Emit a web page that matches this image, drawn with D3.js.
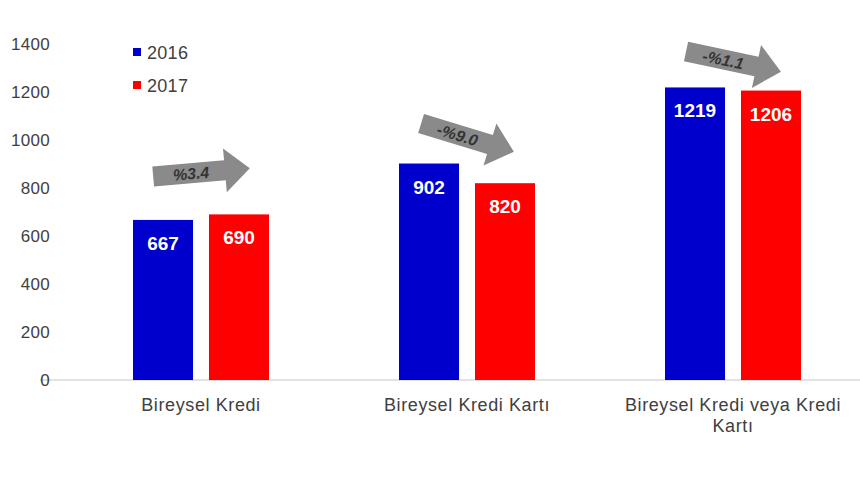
<!DOCTYPE html>
<html lang="tr">
<head>
<meta charset="UTF-8">
<title>Bireysel Kredi</title>
<style>
    body { margin: 0; background: #fff; font-family: "Liberation Sans", Arial, sans-serif; }
    svg { display: block; }
</style>
</head>
<body>
<svg id="chart" width="860" height="480"></svg>
<script src="https://d3js.org/d3.v7.min.js"></script>
<script>
// data
const categories = ["Bireysel Kredi", "Bireysel Kredi Kartı", "Bireysel Kredi veya Kredi Kartı"];
const years = ["2016", "2017"];
const values2016 = [667, 902, 1219];
const values2017 = [690, 820, 1206];
const changeLabels = ["%3.4", "-%9.0", "-%1.1"];
const yTicks = [0, 200, 400, 600, 800, 1000, 1200, 1400];

const colors = { "2016": "#0000cc", "2017": "#ff0000" };
const arrowAngles = [-5, 17, 12];
const arrowLift = [42, 26, 26];

const svg = d3.select("#chart");
const x0 = 68, x1 = 866, yBase = 380, yTop = 44;

const x = d3.scaleBand().domain(categories).range([x0, x1]).paddingInner(0).paddingOuter(0);
const xSub = d3.scaleBand().domain(years).range([x.bandwidth() / 2 - 68, x.bandwidth() / 2 + 68]).paddingInner(0.21);
const y = d3.scaleLinear().domain([0, 1400]).range([yBase, yTop]);

// baseline
svg.append("line")
    .attr("x1", 40).attr("x2", 860)
    .attr("y1", yBase).attr("y2", yBase)
    .attr("stroke", "#d9d9d9").attr("stroke-width", 1.5);

// y axis labels
const yAxis = d3.axisLeft(y).tickValues(yTicks).tickFormat(d3.format("d")).tickSize(0).tickPadding(0);
svg.append("g")
    .attr("transform", "translate(50,0)")
    .call(yAxis)
    .call(g => g.select(".domain").remove())
    .selectAll("text")
    .attr("font-size", 17)
    .attr("letter-spacing", 0.3)
    .attr("font-family", "Liberation Sans, Arial, sans-serif")
    .attr("fill", "#404040");

const rows = categories.map((c, i) => ({ cat: c, vals: [values2016[i], values2017[i]], change: changeLabels[i], i }));

const groups = svg.selectAll("g.grp").data(rows).join("g")
    .attr("class", "grp")
    .attr("transform", d => `translate(${x(d.cat)},0)`);

groups.selectAll("rect").data(d => years.map((yr, k) => ({ yr, v: d.vals[k] }))).join("rect")
    .attr("x", d => xSub(d.yr))
    .attr("width", xSub.bandwidth())
    .attr("y", d => y(d.v))
    .attr("height", d => yBase - y(d.v))
    .attr("fill", d => colors[d.yr]);

groups.selectAll("text.val").data(d => years.map((yr, k) => ({ yr, v: d.vals[k] }))).join("text")
    .attr("class", "val")
    .attr("x", d => xSub(d.yr) + xSub.bandwidth() / 2)
    .attr("y", d => y(d.v) + 30)
    .attr("text-anchor", "middle")
    .attr("font-size", 19)
    .attr("font-weight", "bold")
    .attr("fill", "#fff")
    .text(d => d.v);

// change arrows
const arrowPath = "M-48,-10 L24,-10 L24,-22 L49,0 L24,22 L24,10 L-48,10 Z";
const arrows = groups.append("g")
    .attr("transform", d => {
        const cx = x.bandwidth() / 2;
        const cy = y(d3.max(d.vals)) - arrowLift[d.i];
        return `translate(${cx},${cy}) rotate(${arrowAngles[d.i]})`;
    });
arrows.append("path")
    .attr("d", arrowPath)
    .attr("fill", "#8a8a8a");
arrows.append("text")
    .attr("x", -10).attr("y", 6)
    .attr("text-anchor", "middle")
    .attr("font-size", 16)
    .attr("font-weight", "bold")
    .attr("font-style", "italic")
    .attr("fill", "#333")
    .text(d => d.change);

// category labels
const catLines = [["Bireysel Kredi"], ["Bireysel Kredi Kartı"], ["Bireysel Kredi veya Kredi", "Kartı"]];
groups.append("text")
    .attr("x", x.bandwidth() / 2)
    .attr("y", 411)
    .attr("text-anchor", "middle")
    .attr("font-size", 18)
    .attr("letter-spacing", 0.6)
    .attr("fill", "#404040")
    .selectAll("tspan").data(d => catLines[d.i]).join("tspan")
    .attr("x", x.bandwidth() / 2)
    .attr("dy", (d, k) => k === 0 ? 0 : 21)
    .text(d => d);

// legend
const legend = svg.append("g").selectAll("g").data(years).join("g")
    .attr("transform", (d, k) => `translate(133,${52 + k * 33})`);
legend.append("rect")
    .attr("x", 0).attr("y", -4).attr("width", 8).attr("height", 8)
    .attr("fill", d => colors[d]);
legend.append("text")
    .attr("x", 14).attr("y", 7)
    .attr("font-size", 18)
    .attr("letter-spacing", 0.3)
    .attr("fill", "#404040")
    .text(d => d);
</script>
</body>
</html>
